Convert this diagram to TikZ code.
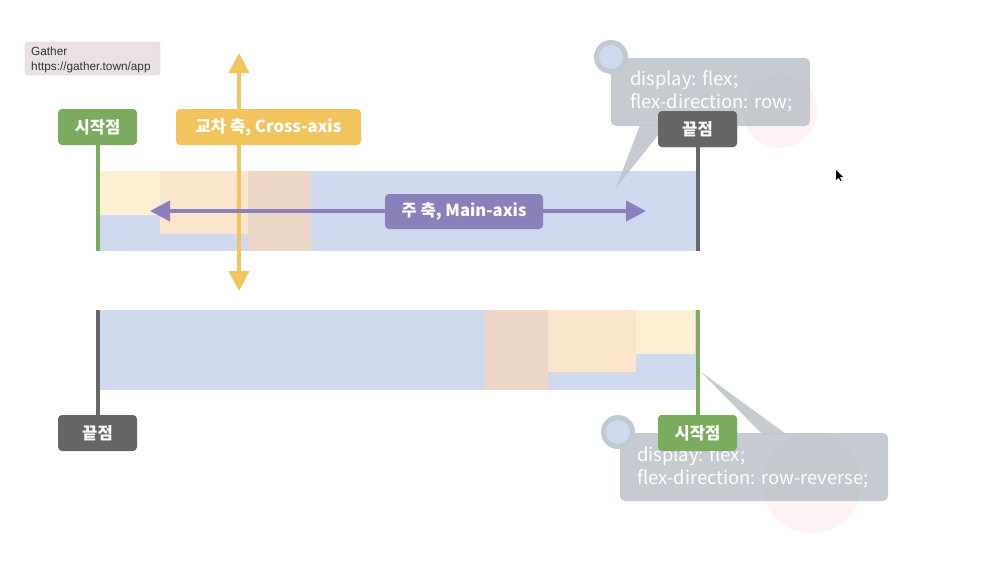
\documentclass[tikz,border=0pt]{standalone}
\usepackage{fontspec}
\setmainfont{Liberation Sans}
\newfontfamily\kr{Noto Sans CJK KR}
\usetikzlibrary{arrows.meta}
\definecolor{cblue}{HTML}{CFDAEE}
\definecolor{cyel}{HTML}{FCEFD2}
\definecolor{cpeach}{HTML}{FBE6CD}
\definecolor{ctan}{HTML}{EDD8C8}
\definecolor{cgreen}{HTML}{7AAB5F}
\definecolor{cdgray}{HTML}{666666}
\definecolor{corange}{HTML}{F2C45E}
\definecolor{cpurple}{HTML}{8A80BC}
\definecolor{ctip}{HTML}{C0C5CC}
\definecolor{cring}{HTML}{C3C9D1}
\definecolor{cpink}{HTML}{FDF3F4}
\definecolor{cgtip}{HTML}{E9E1E4}
\definecolor{cgtipb}{HTML}{D9D1D4}
\begin{document}
\begin{tikzpicture}[x=1pt,y=-1pt,
  lab/.style={rounded corners=4pt, minimum width=79pt, minimum height=36pt, text=white,
    font=\kr\bfseries\fontsize{16.6}{16.6}\selectfont, inner sep=0pt},
  tipbox/.style={fill=ctip, fill opacity=0.9, rounded corners=5pt},
  tiptext/.style={text=white, font=\kr\fontsize{18.4}{23}\selectfont, align=left, anchor=west, inner sep=0pt},
  ring/.style={draw=cring, line width=5pt, fill=cblue},
  vline/.style={line width=4pt},
  axarrow/.style={line width=4pt, {Triangle[width=20pt,length=20pt]}-{Triangle[width=20pt,length=20pt]}}
]
\useasboundingbox (0,0) rectangle (1008,560);
\fill[white] (0,0) rectangle (1008,560);

% Gather tooltip
\node[fill=cgtip, draw=cgtipb, rounded corners=3pt, minimum width=135pt, minimum height=33pt, inner sep=0pt] (gt) at (92.5,58.5) {};
\node[anchor=west, inner sep=0pt, text=black!80, font=\fontsize{11.8}{15}\selectfont, align=left] (gtt) at (31,59.5) {Gather\\https://gather.town/app};

% top container
\fill[cblue] (97,171) rectangle (697,251);
\fill[cyel] (99,171) rectangle (160,215);
\fill[cpeach] (160,171) rectangle (248,234);
\fill[ctan] (248,171) rectangle (311,251);

% bottom container
\fill[cblue] (97,310) rectangle (697,390);
\fill[ctan] (485,310) rectangle (548,390);
\fill[cpeach] (548,310) rectangle (636,372);
\fill[cyel] (636,310) rectangle (695,354);

% labels (nodes) placed first for anchors
\path
  (97.5,127) node[lab, fill=cgreen] (s1) {시작점}
  (697.5,129) node[lab, fill=cdgray] (e1) {끝점}
  (97.5,433) node[lab, fill=cdgray] (e2) {끝점}
  (697.5,433) node[lab, fill=cgreen] (s2) {시작점};

\coordinate (s1b) at (97.5,251);
\coordinate (e1b) at (697.5,251);
\coordinate (e2t) at (97.5,310);
\coordinate (s2t) at (697.5,310);
\draw[vline, cgreen] (s1.south) -- (s1b);
\draw[vline, cdgray] (e1.south) -- (e1b);
\draw[vline, cdgray] (e2t) -- (e2.north);
\draw[vline, cgreen] (s2t) -- (s2.north);

% top tooltip
\fill[cpink] (780,111) circle (37);
\fill[tipbox] (611,58) rectangle (810,126);
\fill[ctip, fill opacity=0.9] (640,125) -- (666,125) -- (616,188) -- cycle;
\draw[ring] (611,57) circle (14.5);
\node[tiptext] (t1) at (630,91) {display: flex;\\flex-direction: row;};

% bottom tooltip
\fill[cpink] (812,483) circle (50);
\fill[tipbox] (620,433) rectangle (888,501);
\fill[ctip, fill opacity=0.9] (701,372) -- (762,434) -- (786,434) -- cycle;
\draw[ring] (618,432) circle (14.5);
\node[tiptext] (t2) at (637,467) {display: flex;\\flex-direction: row-reverse;};

% redraw labels on top
\node[lab, fill=cdgray] at (e1) {끝점};
\node[lab, fill=cgreen] at (s2) {시작점};

% cross axis arrow
\coordinate (cat) at (239,53);
\coordinate (cab) at (239,291);
\draw[axarrow, corange] (cat) -- (cab);
\node[lab, fill=corange, minimum width=185pt] (ca) at (268.5,127) {교차 축, Cross-axis};

% main axis arrow
\coordinate (mal) at (150,211);
\coordinate (mar) at (646,211);
\draw[axarrow, cpurple] (mal) -- (mar);
\node[lab, fill=cpurple, minimum width=158pt, minimum height=35pt] (ma) at (464,211.5) {주 축, Main-axis};

% mouse cursor
\fill[black] (836,170) -- (836,180) -- (838.5,177.5) -- (840.5,181) -- (841.5,180.3) -- (839.7,177) -- (843,177) -- cycle;
\end{tikzpicture}
\end{document}
